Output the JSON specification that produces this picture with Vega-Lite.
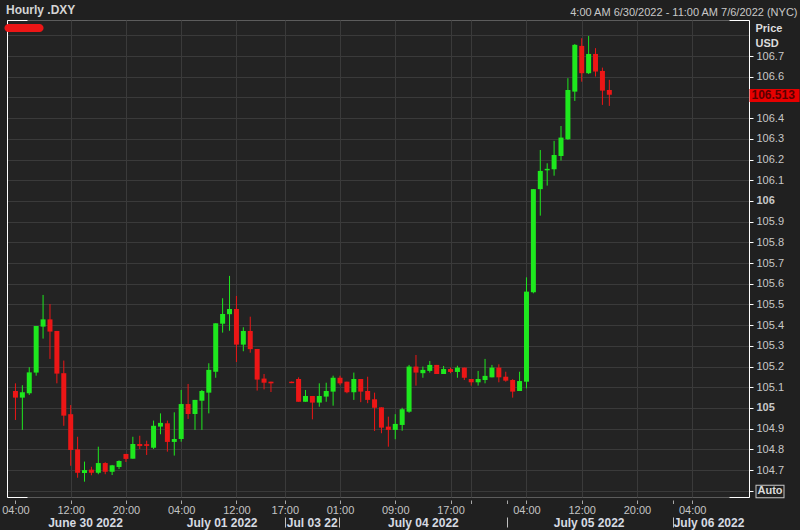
{
  "$schema": "https://vega.github.io/schema/vega-lite/v6.json",
  "width": 742,
  "height": 477,
  "autosize": {"type": "none"},
  "padding": {"left": 7, "top": 20, "right": 51, "bottom": 33},
  "background": "#202020",
  "config": {"view": {"stroke": "#5c5c5c", "fill": "#232323"}, "font": "Liberation Sans"},
  "title": {"text": "Hourly .DXY", "anchor": "start", "frame": "group", "fontSize": 12, "fontWeight": "bold", "color": "#d4d4d4", "offset": 5, "dx": -1, "dy": 16},
  "data": {"values": [
    {"i": 0, "o": 105.082, "h": 105.119, "l": 104.942, "c": 105.050},
    {"i": 1, "o": 105.050, "h": 105.110, "l": 104.894, "c": 105.076},
    {"i": 2, "o": 105.071, "h": 105.197, "l": 105.063, "c": 105.172},
    {"i": 3, "o": 105.171, "h": 105.396, "l": 105.156, "c": 105.396},
    {"i": 4, "o": 105.393, "h": 105.546, "l": 105.335, "c": 105.428},
    {"i": 5, "o": 105.428, "h": 105.502, "l": 105.237, "c": 105.369},
    {"i": 6, "o": 105.372, "h": 105.372, "l": 105.119, "c": 105.166},
    {"i": 7, "o": 105.168, "h": 105.229, "l": 104.914, "c": 104.963},
    {"i": 8, "o": 104.970, "h": 105.014, "l": 104.721, "c": 104.797},
    {"i": 9, "o": 104.800, "h": 104.861, "l": 104.663, "c": 104.687},
    {"i": 10, "o": 104.686, "h": 104.741, "l": 104.644, "c": 104.700},
    {"i": 11, "o": 104.702, "h": 104.716, "l": 104.675, "c": 104.687},
    {"i": 12, "o": 104.687, "h": 104.813, "l": 104.680, "c": 104.734},
    {"i": 13, "o": 104.734, "h": 104.738, "l": 104.680, "c": 104.692},
    {"i": 14, "o": 104.692, "h": 104.725, "l": 104.676, "c": 104.723},
    {"i": 15, "o": 104.715, "h": 104.747, "l": 104.705, "c": 104.744},
    {"i": 16, "o": 104.778, "h": 104.778, "l": 104.739, "c": 104.754},
    {"i": 17, "o": 104.755, "h": 104.861, "l": 104.755, "c": 104.826},
    {"i": 18, "o": 104.826, "h": 104.866, "l": 104.802, "c": 104.816},
    {"i": 19, "o": 104.825, "h": 104.842, "l": 104.773, "c": 104.817},
    {"i": 20, "o": 104.808, "h": 104.939, "l": 104.802, "c": 104.914},
    {"i": 21, "o": 104.910, "h": 104.974, "l": 104.873, "c": 104.928},
    {"i": 22, "o": 104.926, "h": 104.939, "l": 104.789, "c": 104.836},
    {"i": 23, "o": 104.836, "h": 104.979, "l": 104.770, "c": 104.850},
    {"i": 24, "o": 104.850, "h": 105.087, "l": 104.837, "c": 105.019},
    {"i": 25, "o": 105.019, "h": 105.116, "l": 104.947, "c": 104.971},
    {"i": 26, "o": 104.971, "h": 105.039, "l": 104.894, "c": 105.039},
    {"i": 27, "o": 105.035, "h": 105.087, "l": 104.894, "c": 105.082},
    {"i": 28, "o": 105.074, "h": 105.216, "l": 104.974, "c": 105.184},
    {"i": 29, "o": 105.175, "h": 105.409, "l": 105.146, "c": 105.409},
    {"i": 30, "o": 105.407, "h": 105.530, "l": 105.364, "c": 105.454},
    {"i": 31, "o": 105.453, "h": 105.638, "l": 105.373, "c": 105.478},
    {"i": 32, "o": 105.478, "h": 105.541, "l": 105.222, "c": 105.306},
    {"i": 33, "o": 105.306, "h": 105.390, "l": 105.274, "c": 105.372},
    {"i": 34, "o": 105.372, "h": 105.441, "l": 105.267, "c": 105.284},
    {"i": 35, "o": 105.285, "h": 105.285, "l": 105.084, "c": 105.137},
    {"i": 36, "o": 105.142, "h": 105.164, "l": 105.090, "c": 105.122},
    {"i": 37, "o": 105.127, "h": 105.127, "l": 105.077, "c": 105.119},
    {"i": 40, "o": 105.127, "h": 105.128, "l": 105.120, "c": 105.120},
    {"i": 41, "o": 105.140, "h": 105.148, "l": 105.030, "c": 105.030},
    {"i": 42, "o": 105.030, "h": 105.087, "l": 105.030, "c": 105.058},
    {"i": 43, "o": 105.058, "h": 105.058, "l": 104.945, "c": 105.026},
    {"i": 44, "o": 105.026, "h": 105.119, "l": 105.006, "c": 105.058},
    {"i": 45, "o": 105.055, "h": 105.122, "l": 105.030, "c": 105.082},
    {"i": 46, "o": 105.079, "h": 105.156, "l": 105.011, "c": 105.146},
    {"i": 47, "o": 105.146, "h": 105.156, "l": 105.110, "c": 105.119},
    {"i": 48, "o": 105.127, "h": 105.127, "l": 105.071, "c": 105.076},
    {"i": 49, "o": 105.076, "h": 105.171, "l": 105.039, "c": 105.140},
    {"i": 50, "o": 105.140, "h": 105.140, "l": 105.028, "c": 105.079},
    {"i": 51, "o": 105.082, "h": 105.151, "l": 105.023, "c": 105.039},
    {"i": 52, "o": 105.042, "h": 105.074, "l": 104.889, "c": 105.001},
    {"i": 53, "o": 105.003, "h": 105.003, "l": 104.878, "c": 104.905},
    {"i": 54, "o": 104.910, "h": 104.958, "l": 104.813, "c": 104.894},
    {"i": 55, "o": 104.894, "h": 104.970, "l": 104.849, "c": 104.923},
    {"i": 56, "o": 104.918, "h": 105.001, "l": 104.890, "c": 104.994},
    {"i": 57, "o": 104.982, "h": 105.208, "l": 104.977, "c": 105.200},
    {"i": 58, "o": 105.200, "h": 105.256, "l": 105.108, "c": 105.171},
    {"i": 59, "o": 105.168, "h": 105.200, "l": 105.146, "c": 105.184},
    {"i": 60, "o": 105.179, "h": 105.227, "l": 105.171, "c": 105.208},
    {"i": 61, "o": 105.208, "h": 105.208, "l": 105.164, "c": 105.164},
    {"i": 62, "o": 105.164, "h": 105.203, "l": 105.164, "c": 105.188},
    {"i": 63, "o": 105.188, "h": 105.195, "l": 105.168, "c": 105.174},
    {"i": 64, "o": 105.174, "h": 105.204, "l": 105.146, "c": 105.195},
    {"i": 65, "o": 105.195, "h": 105.195, "l": 105.135, "c": 105.146},
    {"i": 66, "o": 105.140, "h": 105.140, "l": 105.108, "c": 105.124},
    {"i": 67, "o": 105.124, "h": 105.179, "l": 105.108, "c": 105.140},
    {"i": 68, "o": 105.135, "h": 105.237, "l": 105.119, "c": 105.155},
    {"i": 69, "o": 105.148, "h": 105.208, "l": 105.148, "c": 105.195},
    {"i": 70, "o": 105.195, "h": 105.211, "l": 105.124, "c": 105.148},
    {"i": 71, "o": 105.151, "h": 105.175, "l": 105.127, "c": 105.132},
    {"i": 72, "o": 105.135, "h": 105.139, "l": 105.050, "c": 105.079},
    {"i": 73, "o": 105.082, "h": 105.175, "l": 105.082, "c": 105.130},
    {"i": 74, "o": 105.127, "h": 105.631, "l": 105.095, "c": 105.562},
    {"i": 75, "o": 105.559, "h": 106.057, "l": 105.554, "c": 106.057},
    {"i": 76, "o": 106.057, "h": 106.246, "l": 105.929, "c": 106.145},
    {"i": 77, "o": 106.148, "h": 106.182, "l": 106.074, "c": 106.155},
    {"i": 78, "o": 106.153, "h": 106.290, "l": 106.122, "c": 106.222},
    {"i": 79, "o": 106.217, "h": 106.362, "l": 106.195, "c": 106.306},
    {"i": 80, "o": 106.298, "h": 106.593, "l": 106.295, "c": 106.536},
    {"i": 81, "o": 106.528, "h": 106.758, "l": 106.483, "c": 106.754},
    {"i": 82, "o": 106.749, "h": 106.786, "l": 106.576, "c": 106.617},
    {"i": 83, "o": 106.617, "h": 106.797, "l": 106.613, "c": 106.710},
    {"i": 84, "o": 106.710, "h": 106.738, "l": 106.601, "c": 106.625},
    {"i": 85, "o": 106.628, "h": 106.644, "l": 106.464, "c": 106.533},
    {"i": 86, "o": 106.536, "h": 106.585, "l": 106.459, "c": 106.513}
  ]},
  "transform": [{"calculate": "datum.c >= datum.o ? 'up' : 'down'", "as": "dir"}],
  "resolve": {"axis": {"x": "independent", "y": "independent"}},
  "layer": [
    {
      "mark": {"type": "rule", "strokeWidth": 1},
      "encoding": {
        "x": {"field": "i", "type": "quantitative",
          "scale": {"domain": [-0.5, 105.5], "nice": false, "zero": false},
          "axis": {"orient": "bottom", "title": null, "offset": 3, "domain": false,
            "values": [0, 8, 16, 24, 32, 39, 47, 55, 63, 66, 71.2, 74, 82, 90, 95.2, 98],
            "labelExpr": "(datum.value == 66 || datum.value == 71.2 || datum.value == 95.2) ? '' : (((datum.value < 38 ? (datum.value + 4) % 24 : (datum.value - 22) % 24) < 10 ? '0' : '') + (datum.value < 38 ? (datum.value + 4) % 24 : (datum.value - 22) % 24) + ':00')",
            "grid": true, "gridColor": "#3a3a3a",
            "gridOpacity": {"condition": {"test": "datum.value == 0 || datum.value == 71.2 || datum.value == 95.2", "value": 0}, "value": 1},
            "tickColor": "#a8a8a8", "tickSize": 3.5, "labelColor": "#c4c4c4", "labelFontSize": 11,
            "labelPadding": 1, "labelFlush": false, "labelOverlap": false, "labelBound": false}},
        "y": {"field": "l", "type": "quantitative",
          "scale": {"domain": [104.57, 106.874], "nice": false, "zero": false},
          "axis": {"orient": "right",
            "values": [104.6, 104.7, 104.8, 104.9, 105, 105.1, 105.2, 105.3, 105.4, 105.5, 105.6, 105.7, 105.8, 105.9, 106, 106.1, 106.2, 106.3, 106.4, 106.5, 106.6, 106.7, 106.8],
            "format": ".1~f",
            "labelExpr": "(datum.value < 104.65 || datum.value > 106.75 || abs(datum.value - 106.5) < 0.01) ? '' : datum.label",
            "grid": true, "gridColor": "#3a3a3a", "domainColor": "#ffffff",
            "tickColor": "#ffffff", "tickSize": 4,
            "tickOpacity": {"condition": {"test": "datum.value > 106.75", "value": 0}, "value": 1},
            "labelColor": "#c8c8c8", "labelFontSize": 11, "labelPadding": 3,
            "labelFontWeight": {"condition": {"test": "abs(datum.value - round(datum.value)) < 0.001", "value": "bold"}, "value": "normal"},
            "labelOverlap": false, "labelBound": false, "labelFlush": false,
            "title": ["Price", "USD"], "titleAngle": 0, "titleX": 6, "titleY": 2,
            "titleAlign": "left", "titleBaseline": "top", "titleFontSize": 11,
            "titleFontWeight": "bold", "titleColor": "#dcdcdc", "titleLineHeight": 15}},
        "y2": {"field": "h"},
        "color": {"field": "dir", "type": "nominal",
          "scale": {"domain": ["up", "down"], "range": ["#1ee81e", "#ec1616"]},
          "legend": {"orient": "none", "legendX": -2, "legendY": -11, "values": ["down"],
            "title": null, "labelExpr": "''", "padding": 0,
            "symbolType": "M-0.82,-0.21L0.82,-0.21A0.21,0.21,0,0,1,0.82,0.21L-0.82,0.21A0.21,0.21,0,0,1,-0.82,-0.21Z",
            "symbolSize": 1444, "symbolStrokeWidth": 0, "symbolOpacity": 1}}
      }
    },
    {
      "mark": {"type": "bar", "size": 5},
      "encoding": {
        "x": {"field": "i", "type": "quantitative",
          "axis": {"orient": "bottom", "title": null,
            "values": [10.07, 29.86, 42.9, 59, 83, 100.36],
            "labelExpr": "datum.value < 20 ? 'June 30 2022' : datum.value < 40 ? 'July 01 2022' : datum.value < 50 ? 'Jul 03 22' : datum.value < 70 ? 'July 04 2022' : datum.value < 90 ? 'July 05 2022' : 'July 06 2022'",
            "ticks": false, "domain": false, "grid": false, "labelPadding": 20,
            "labelFontWeight": "bold", "labelFontSize": 12, "labelColor": "#d6dae2",
            "labelOverlap": false, "labelBound": false, "labelFlush": false}},
        "y": {"field": "o", "type": "quantitative",
          "axis": {"orient": "left", "domainColor": "#ffffff", "labels": false, "grid": false,
            "values": [104.57, 106.874], "ticks": true, "tickSize": -20, "tickColor": "#ffffff",
            "title": "4:00 AM 6/30/2022 - 11:00 AM 7/6/2022 (NYC)", "titleAngle": 0, "titleX": 790, "titleY": -5,
            "titleAlign": "right", "titleBaseline": "alphabetic", "titleFontWeight": "normal",
            "titleFontSize": 11, "titleColor": "#c8c8c8"}},
        "y2": {"field": "c"},
        "color": {"field": "dir", "type": "nominal"}
      }
    },
    {
      "mark": {"type": "rule", "opacity": 0},
      "encoding": {
        "x": {"field": "i", "type": "quantitative",
          "axis": {"orient": "bottom", "title": null, "values": [39.05, 46.9, 71.2, 95.2],
            "labels": false, "domain": false, "grid": false, "tickSize": 10, "offset": 20,
            "tickColor": "#c0c0c0"}},
        "y": {"field": "l", "type": "quantitative",
          "axis": {"orient": "right", "title": null, "values": [106.513], "format": ".3f",
            "domain": false, "grid": false, "tickSize": 50, "tickWidth": 13, "tickColor": "#e60000",
            "labelPadding": -48, "labelColor": "#5a0000", "labelFontSize": 12, "labelFontWeight": "bold",
            "labelOverlap": false, "labelBound": false, "labelFlush": false}},
        "y2": {"field": "h"}
      }
    },
    {
      "mark": {"type": "rule", "opacity": 0},
      "encoding": {
        "x": {"field": "i", "type": "quantitative", "axis": null},
        "y": {"field": "l", "type": "quantitative",
          "axis": {"orient": "right", "title": null, "values": [104.6], "labels": false,
            "domain": false, "grid": false, "offset": 6, "tickSize": 29, "tickWidth": 13.5,
            "tickColor": "#c8c8c8"}},
        "y2": {"field": "h"}
      }
    },
    {
      "mark": {"type": "rule", "opacity": 0},
      "encoding": {
        "x": {"field": "i", "type": "quantitative", "axis": null},
        "y": {"field": "l", "type": "quantitative",
          "axis": {"orient": "right", "title": null, "values": [104.6], "labelExpr": "'Auto'",
            "domain": false, "grid": false, "offset": 7, "tickSize": 27, "tickWidth": 11.5,
            "tickColor": "#202020", "labelPadding": -26, "labelColor": "#dadada",
            "labelFontSize": 11, "labelFontWeight": "bold",
            "labelOverlap": false, "labelBound": false, "labelFlush": false}},
        "y2": {"field": "h"}
      }
    },
    {
      "mark": {"type": "rule", "opacity": 0},
      "encoding": {
        "x": {"field": "i", "type": "quantitative", "axis": null},
        "y": {"field": "l", "type": "quantitative",
          "axis": {"orient": "right", "title": null, "values": [104.57, 106.874], "labels": false,
            "domain": false, "grid": false, "tickSize": -20, "tickColor": "#ffffff"}},
        "y2": {"field": "h"}
      }
    }
  ]
}
